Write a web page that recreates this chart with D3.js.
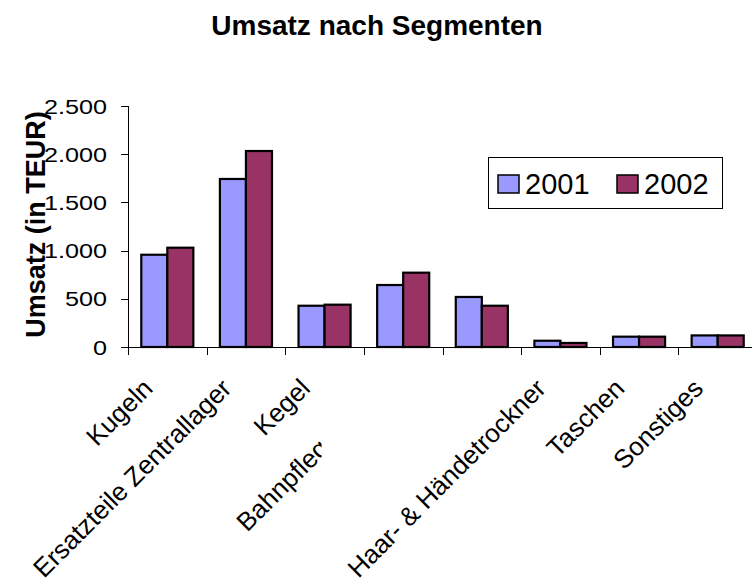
<!DOCTYPE html>
<html>
<head>
<meta charset="utf-8">
<script src="https://cdn.jsdelivr.net/npm/d3@7"></script>
<style>
  body { margin: 0; background: #fff; }
  text { font-family: "Liberation Sans", Arial, sans-serif; fill: #000; }
</style>
</head>
<body>
<div id="chart"></div>
<script>
const width = 752,
    height = 583;

// data
const categories = ["Kugeln", "Ersatzteile Zentrallager", "Kegel", "Bahnpflege", "",
    "Haar- & Händetrockner", "Taschen", "Sonstiges"];
const years = ["2001", "2002"];
const values2001 = [957, 1743, 428, 643, 519, 65, 107, 120];
const values2002 = [1030, 2033, 439, 771, 428, 42, 107, 120];
const yTicks = [0, 500, 1000, 1500, 2000, 2500];
const colors = ["#9999FF", "#993366"];

const plot = {left: 128, right: 757, top: 106, bottom: 347};

const svg = d3.select('#chart').append('svg')
    .attr('width', width)
    .attr('height', height);

const de = d3.formatLocale({decimal: ",", thousands: ".", grouping: [3], currency: ["", " €"]});
const fmt = de.format(",d");

const x = d3.scaleBand()
    .domain(d3.range(categories.length))
    .range([plot.left, plot.right])
    .padding(0);

const xInner = d3.scaleBand()
    .domain(years)
    .range([0, x.bandwidth()])
    .paddingInner(0)
    .paddingOuter(0.51);

const y = d3.scaleLinear()
    .domain([0, 2500])
    .range([plot.bottom, plot.top]);

// title
svg.append("text")
    .attr("x", 377)
    .attr("y", 35)
    .attr("text-anchor", "middle")
    .style("font-size", "28px")
    .style("font-weight", "bold")
    .text("Umsatz nach Segmenten");

// bars
const rows = categories.map((c, i) => ({i: i, vals: [values2001[i], values2002[i]]}));

svg.append("g")
    .selectAll("g")
    .data(rows)
    .enter()
    .append("g")
    .attr("transform", d => `translate(${x(d.i)},0)`)
    .selectAll("rect")
    .data(d => d.vals.map((v, k) => ({year: years[k], value: v, k: k})))
    .enter()
    .append("rect")
    .attr("x", d => xInner(d.year))
    .attr("width", xInner.bandwidth())
    .attr("y", d => y(d.value))
    .attr("height", d => y(0) - y(d.value))
    .attr("fill", d => colors[d.k])
    .attr("stroke", "#000")
    .attr("stroke-width", 2.2);

// y axis
const yAxis = svg.append("g");
yAxis.append("line")
    .attr("x1", plot.left).attr("x2", plot.left)
    .attr("y1", y(2500)).attr("y2", y(0))
    .attr("stroke", "#000").attr("shape-rendering", "crispEdges");
yAxis.selectAll(".tick")
    .data(yTicks)
    .enter()
    .append("line")
    .attr("x1", plot.left - 7).attr("x2", plot.left)
    .attr("y1", d => Math.round(y(d)) + 0.5).attr("y2", d => Math.round(y(d)) + 0.5)
    .attr("stroke", "#000");
yAxis.selectAll("text")
    .data(yTicks)
    .enter()
    .append("text")
    .attr("transform", d => `translate(${plot.left - 21},${y(d)}) scale(1.2,1)`)
    .attr("dy", "0.36em")
    .attr("text-anchor", "end")
    .style("font-size", "21px")
    .text(d => fmt(d));

svg.append("text")
    .attr("transform", `translate(45,${(plot.top + plot.bottom) / 2 - 2}) rotate(-90)`)
    .attr("text-anchor", "middle")
    .style("font-size", "27px")
    .style("font-weight", "bold")
    .text("Umsatz (in TEUR)");

// x axis
const xAxis = svg.append("g");
xAxis.append("line")
    .attr("x1", plot.left).attr("x2", plot.right)
    .attr("y1", y(0) + 0.5).attr("y2", y(0) + 0.5)
    .attr("stroke", "#000");
xAxis.selectAll("line.tick")
    .data(d3.range(categories.length + 1))
    .enter()
    .append("line")
    .attr("class", "tick")
    .attr("x1", d => Math.round(plot.left + d * x.step()) + 0.5)
    .attr("x2", d => Math.round(plot.left + d * x.step()) + 0.5)
    .attr("y1", y(0)).attr("y2", y(0) + 8)
    .attr("stroke", "#000");

// category labels, rotated 45 degrees, end anchored near the band centre
const labelDx = -13, labelDy = 43;
const labels = svg.append("g");
labels.selectAll("text")
    .data(categories.map((c, i) => ({name: c, i: i})).filter(d => d.name !== "" && d.name !== "Bahnpflege"))
    .enter()
    .append("text")
    .attr("transform", d => `translate(${x(d.i) + x.bandwidth() / 2 + labelDx},${y(0) + labelDy}) rotate(-45)`)
    .attr("text-anchor", "end")
    .style("font-size", "26px")
    .text(d => d.name);

// the Bahnpflege label sits further down its diagonal and is cut off on the right
const bi = categories.indexOf("Bahnpflege");
svg.append("clipPath")
    .attr("id", "bahnClip")
    .append("rect")
    .attr("x", 0)
    .attr("y", 0)
    .attr("width", x(bi - 1) + x.bandwidth() / 2 - 3)
    .attr("height", height);

svg.append("g")
    .attr("clip-path", "url(#bahnClip)")
    .append("text")
    .attr("transform", `translate(${x(bi) + x.bandwidth() / 2 + labelDx},${y(0) + labelDy}) rotate(-45)`)
    .attr("x", -202)
    .attr("text-anchor", "start")
    .style("font-size", "26px")
    .text("Bahnpflege");

// legend
const legend = svg.append("g");
legend.append("rect")
    .attr("x", 488.5).attr("y", 157.5)
    .attr("width", 234).attr("height", 51)
    .attr("fill", "#fff")
    .attr("stroke", "#000");

const legendItems = legend.selectAll("g")
    .data(years)
    .enter()
    .append("g")
    .attr("transform", (d, i) => `translate(${498 + i * 119},0)`);

legendItems.append("rect")
    .attr("x", 0).attr("y", 175)
    .attr("width", 21).attr("height", 18)
    .attr("fill", (d, i) => colors[i])
    .attr("stroke", "#000")
    .attr("stroke-width", 1.5);

legendItems.append("text")
    .attr("x", 27)
    .attr("y", 194)
    .style("font-size", "29px")
    .text(d => d);
</script>
</body>
</html>
